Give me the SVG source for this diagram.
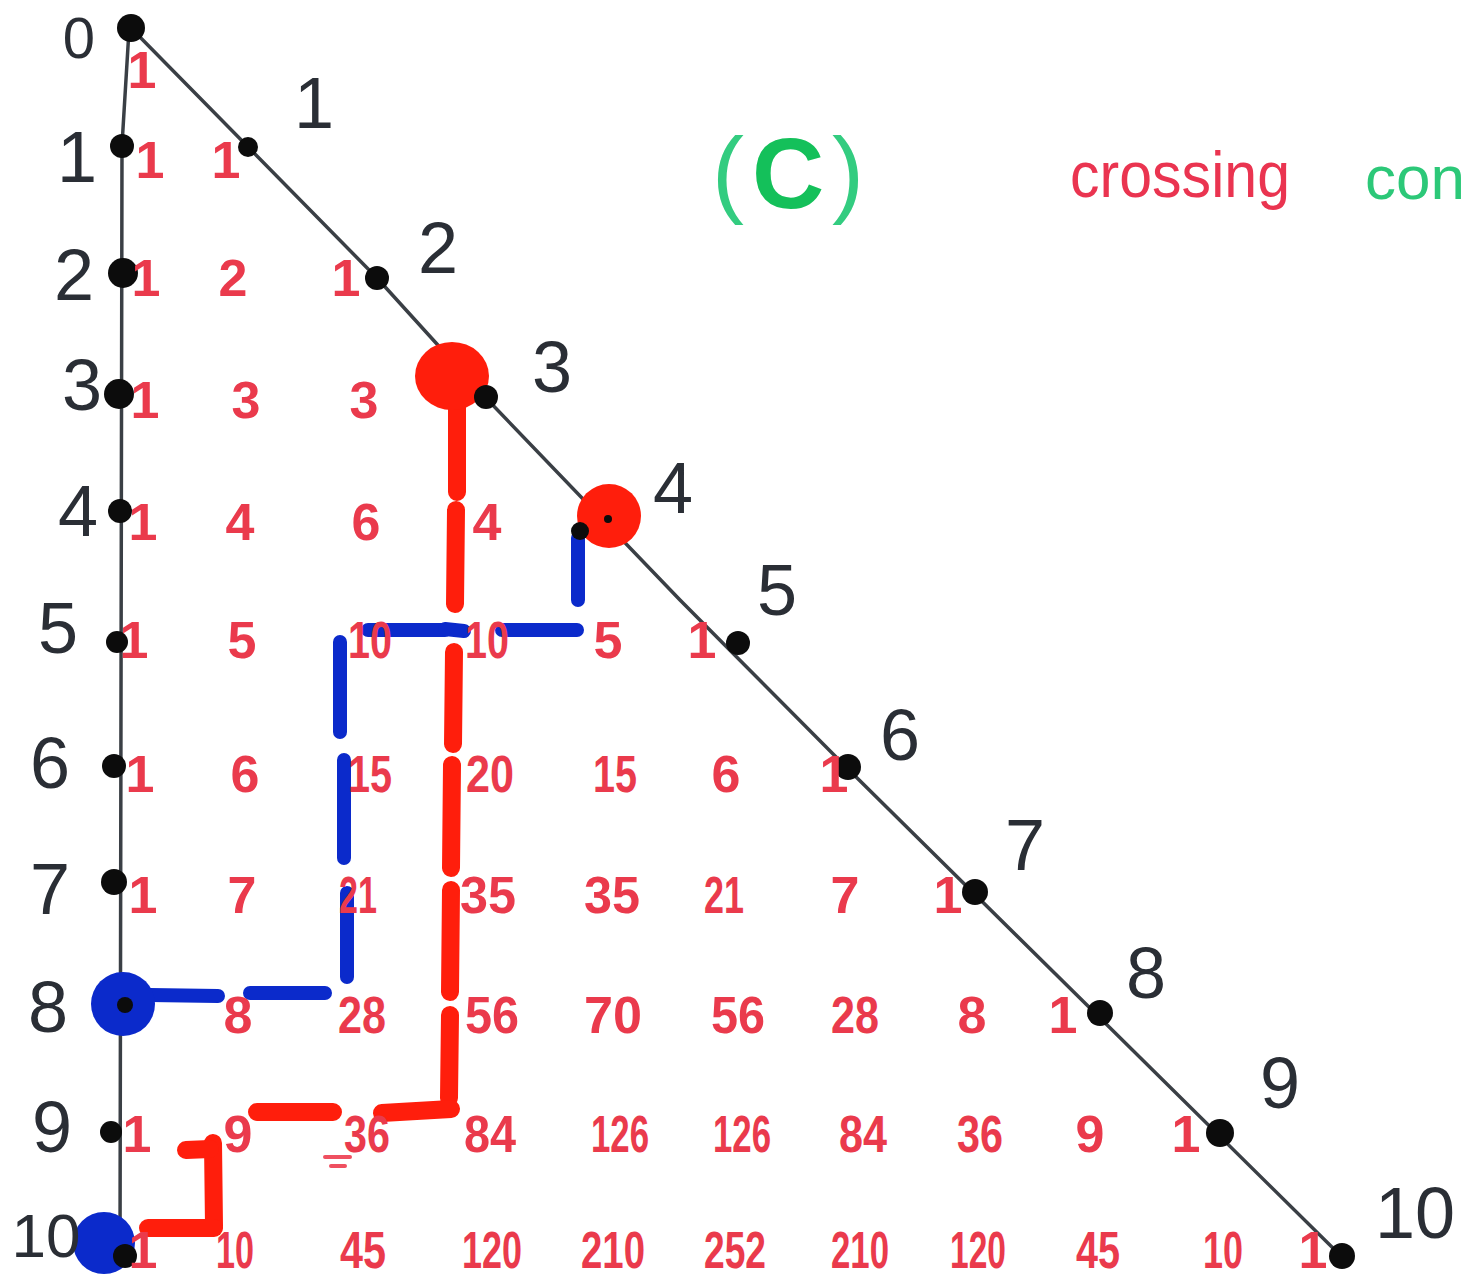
<svg xmlns="http://www.w3.org/2000/svg" width="1467" height="1286" viewBox="0 0 1467 1286">
<style>
.bg{fill:#ffffff}
.axis{fill:none;stroke:#3a3f45;stroke-width:3.5;stroke-linejoin:round;stroke-linecap:round}
.dot{fill:#0c0c0c}
.lbl{font-family:"Liberation Sans",Arial,sans-serif;font-size:72px;fill:#2a2e35;text-anchor:middle}
.num{font-family:"Liberation Sans",Arial,sans-serif;font-size:52px;font-weight:bold;fill:#ea3a4c;text-anchor:middle}
.redm{fill:none;stroke:#ff1e0c;stroke-width:18;stroke-linecap:round}
.bluem{fill:none;stroke:#0b2acb;stroke-width:14;stroke-linecap:round}
.redc{fill:#ff1e0c}
.bluec{fill:#0b2acb}
</style>
<rect class="bg" x="0" y="0" width="1467" height="1286"/>

<g id="connectors">
  <polyline class="axis" points="129,30 122,145 120,1258"/>
  <polyline class="axis" points="131,28 377,278 485,397 680,600 846,767 1342,1257"/>
  <!-- red marker path -->
  <path class="redm" d="M457,402 L457,492 M456,510 L455,604 M454,652 L453,744 M452,765 L451,868 M451,890 L450,992 M450,1015 L449,1098"/>
  <path class="redm" d="M451,1109 L382,1113 M333,1112 L257,1112"/>
  <path class="redm" stroke-width="16" d="M213,1143 L214,1226"/>
  <path class="redm" stroke-width="6" d="M186,1150 L210,1149"/>
  <path class="redm" d="M148,1228 L214,1228"/>
  <path fill="none" stroke="#ef5060" stroke-width="4" stroke-linecap="round" d="M325,1157 L350,1157 M331,1166 L345,1166"/>
  <!-- blue marker path -->
  <path class="bluem" d="M578,538 L578,600 M502,630 L577,630 M368,630 L445,630"/>
  <path class="bluem" stroke-width="5" d="M445,629 L464,631"/>
  <path class="bluem" d="M340,642 L340,732 M344,760 L344,858 M347,893 L347,977 M250,993 L325,993"/>
  <path class="bluem" stroke-width="6" d="M150,995 L218,996"/>
</g>

<g id="highlights">
  <ellipse class="redc" cx="452" cy="376" rx="37" ry="34"/>
  <circle class="redc" cx="609" cy="516" r="32"/>
  <circle class="bluec" cx="123" cy="1004" r="32"/>
  <circle class="bluec" cx="104" cy="1243" r="31"/>
</g>

<g id="left-nodes">
  <g id="L0"><circle class="dot" cx="131" cy="28" r="14"/><text class="lbl" x="79" y="58" style="font-size:58px">0</text></g>
  <g id="L1"><circle class="dot" cx="122" cy="146" r="12"/><text class="lbl" x="77" y="182">1</text></g>
  <g id="L2"><circle class="dot" cx="123" cy="273" r="15"/><text class="lbl" x="74" y="300">2</text></g>
  <g id="L3"><circle class="dot" cx="119" cy="394" r="15"/><text class="lbl" x="82" y="410">3</text></g>
  <g id="L4"><circle class="dot" cx="120" cy="511" r="12"/><text class="lbl" x="78" y="536">4</text></g>
  <g id="L5"><circle class="dot" cx="117" cy="642" r="11"/><text class="lbl" x="58" y="653">5</text></g>
  <g id="L6"><circle class="dot" cx="114" cy="766" r="12"/><text class="lbl" x="50" y="788">6</text></g>
  <g id="L7"><circle class="dot" cx="114" cy="882" r="13"/><text class="lbl" x="50" y="914">7</text></g>
  <g id="L8"><circle class="dot" cx="125" cy="1005" r="8"/><text class="lbl" x="48" y="1032">8</text></g>
  <g id="L9"><circle class="dot" cx="111" cy="1132" r="11"/><text class="lbl" x="52" y="1152">9</text></g>
  <g id="L10"><circle class="dot" cx="125" cy="1256" r="12"/><text class="lbl" x="46" y="1257" style="font-size:62px">10</text></g>
</g>

<g id="diag-nodes">
  <g id="D1"><circle class="dot" cx="248" cy="147" r="10"/><text class="lbl" x="314" y="128">1</text></g>
  <g id="D2"><circle class="dot" cx="377" cy="278" r="12"/><text class="lbl" x="438" y="273">2</text></g>
  <g id="D3"><circle class="dot" cx="486" cy="397" r="12"/><text class="lbl" x="552" y="392">3</text></g>
  <g id="D4"><circle class="dot" cx="580" cy="531" r="9"/><circle class="dot" cx="608" cy="519" r="4"/><text class="lbl" x="673" y="513">4</text></g>
  <g id="D5"><circle class="dot" cx="738" cy="643" r="12"/><text class="lbl" x="777" y="615">5</text></g>
  <g id="D6"><circle class="dot" cx="848" cy="767" r="13"/><text class="lbl" x="900" y="760">6</text></g>
  <g id="D7"><circle class="dot" cx="975" cy="892" r="13"/><text class="lbl" x="1025" y="870">7</text></g>
  <g id="D8"><circle class="dot" cx="1100" cy="1013" r="13"/><text class="lbl" x="1146" y="998">8</text></g>
  <g id="D9"><circle class="dot" cx="1220" cy="1133" r="14"/><text class="lbl" x="1280" y="1108">9</text></g>
  <g id="D10"><circle class="dot" cx="1342" cy="1256" r="13"/><text class="lbl" x="1415" y="1238">10</text></g>
</g>

<g id="pascal">
  <text class="num" x="142" y="88">1</text>
  <text class="num" x="150" y="178">1</text><text class="num" x="226" y="178">1</text>
  <text class="num" x="146" y="296">1</text><text class="num" x="233" y="296">2</text><text class="num" x="346" y="296">1</text>
  <text class="num" x="145" y="418">1</text><text class="num" x="246" y="418">3</text><text class="num" x="364" y="418">3</text>
  <text class="num" x="143" y="540">1</text><text class="num" x="240" y="540">4</text><text class="num" x="366" y="540">6</text><text class="num" x="487" y="540">4</text>
  <text class="num" x="134" y="658">1</text><text class="num" x="242" y="658">5</text><text class="num" x="370" y="658" textLength="44" lengthAdjust="spacingAndGlyphs">10</text><text class="num" x="487" y="658" textLength="44" lengthAdjust="spacingAndGlyphs">10</text><text class="num" x="608" y="658">5</text><text class="num" x="702" y="658">1</text>
  <text class="num" x="140" y="792">1</text><text class="num" x="245" y="792">6</text><text class="num" x="370" y="792" textLength="44" lengthAdjust="spacingAndGlyphs">15</text><text class="num" x="490" y="792" textLength="48" lengthAdjust="spacingAndGlyphs">20</text><text class="num" x="615" y="792" textLength="44" lengthAdjust="spacingAndGlyphs">15</text><text class="num" x="726" y="792">6</text><text class="num" x="834" y="792">1</text>
  <text class="num" x="143" y="913">1</text><text class="num" x="242" y="913">7</text><text class="num" x="358" y="913" textLength="38" lengthAdjust="spacingAndGlyphs">21</text><text class="num" x="488" y="913" textLength="56" lengthAdjust="spacingAndGlyphs">35</text><text class="num" x="612" y="913" textLength="56" lengthAdjust="spacingAndGlyphs">35</text><text class="num" x="724" y="913" textLength="40" lengthAdjust="spacingAndGlyphs">21</text><text class="num" x="845" y="913">7</text><text class="num" x="948" y="913">1</text>
  <text class="num" x="238" y="1033">8</text><text class="num" x="362" y="1033" textLength="48" lengthAdjust="spacingAndGlyphs">28</text><text class="num" x="492" y="1033" textLength="54" lengthAdjust="spacingAndGlyphs">56</text><text class="num" x="613" y="1033" textLength="58" lengthAdjust="spacingAndGlyphs">70</text><text class="num" x="738" y="1033" textLength="54" lengthAdjust="spacingAndGlyphs">56</text><text class="num" x="855" y="1033" textLength="48" lengthAdjust="spacingAndGlyphs">28</text><text class="num" x="972" y="1033">8</text><text class="num" x="1063" y="1033">1</text>
  <text class="num" x="137" y="1152">1</text><text class="num" x="238" y="1152">9</text><text class="num" x="367" y="1152" textLength="46" lengthAdjust="spacingAndGlyphs">36</text><text class="num" x="490" y="1152" textLength="52" lengthAdjust="spacingAndGlyphs">84</text><text class="num" x="620" y="1152" textLength="58" lengthAdjust="spacingAndGlyphs">126</text><text class="num" x="742" y="1152" textLength="58" lengthAdjust="spacingAndGlyphs">126</text><text class="num" x="863" y="1152" textLength="48" lengthAdjust="spacingAndGlyphs">84</text><text class="num" x="980" y="1152" textLength="46" lengthAdjust="spacingAndGlyphs">36</text><text class="num" x="1090" y="1152">9</text><text class="num" x="1186" y="1152">1</text>
  <text class="num" x="143" y="1268">1</text><text class="num" x="235" y="1268" textLength="38" lengthAdjust="spacingAndGlyphs">10</text><text class="num" x="363" y="1268" textLength="46" lengthAdjust="spacingAndGlyphs">45</text><text class="num" x="492" y="1268" textLength="60" lengthAdjust="spacingAndGlyphs">120</text><text class="num" x="613" y="1268" textLength="64" lengthAdjust="spacingAndGlyphs">210</text><text class="num" x="735" y="1268" textLength="62" lengthAdjust="spacingAndGlyphs">252</text><text class="num" x="860" y="1268" textLength="58" lengthAdjust="spacingAndGlyphs">210</text><text class="num" x="978" y="1268" textLength="56" lengthAdjust="spacingAndGlyphs">120</text><text class="num" x="1098" y="1268" textLength="44" lengthAdjust="spacingAndGlyphs">45</text><text class="num" x="1223" y="1268" textLength="40" lengthAdjust="spacingAndGlyphs">10</text><text class="num" x="1313" y="1268">1</text>
</g>

<g id="title">
  <text x="728" y="205" font-family="Liberation Sans, Arial, sans-serif" font-size="96" fill="#33cc80" text-anchor="middle">(</text>
  <text x="788" y="208" font-family="Liberation Sans, Arial, sans-serif" font-size="100" fill="#14c05a" text-anchor="middle" font-weight="bold">C</text>
  <text x="848" y="205" font-family="Liberation Sans, Arial, sans-serif" font-size="96" fill="#33cc80" text-anchor="middle">)</text>
  <text x="1070" y="197" font-family="Liberation Sans, Arial, sans-serif" font-size="64" fill="#ea3450" textLength="220" lengthAdjust="spacingAndGlyphs">crossing</text>
  <text x="1365" y="199" font-family="Liberation Sans, Arial, sans-serif" font-size="62" fill="#2cc878">con</text>
</g>
</svg>
